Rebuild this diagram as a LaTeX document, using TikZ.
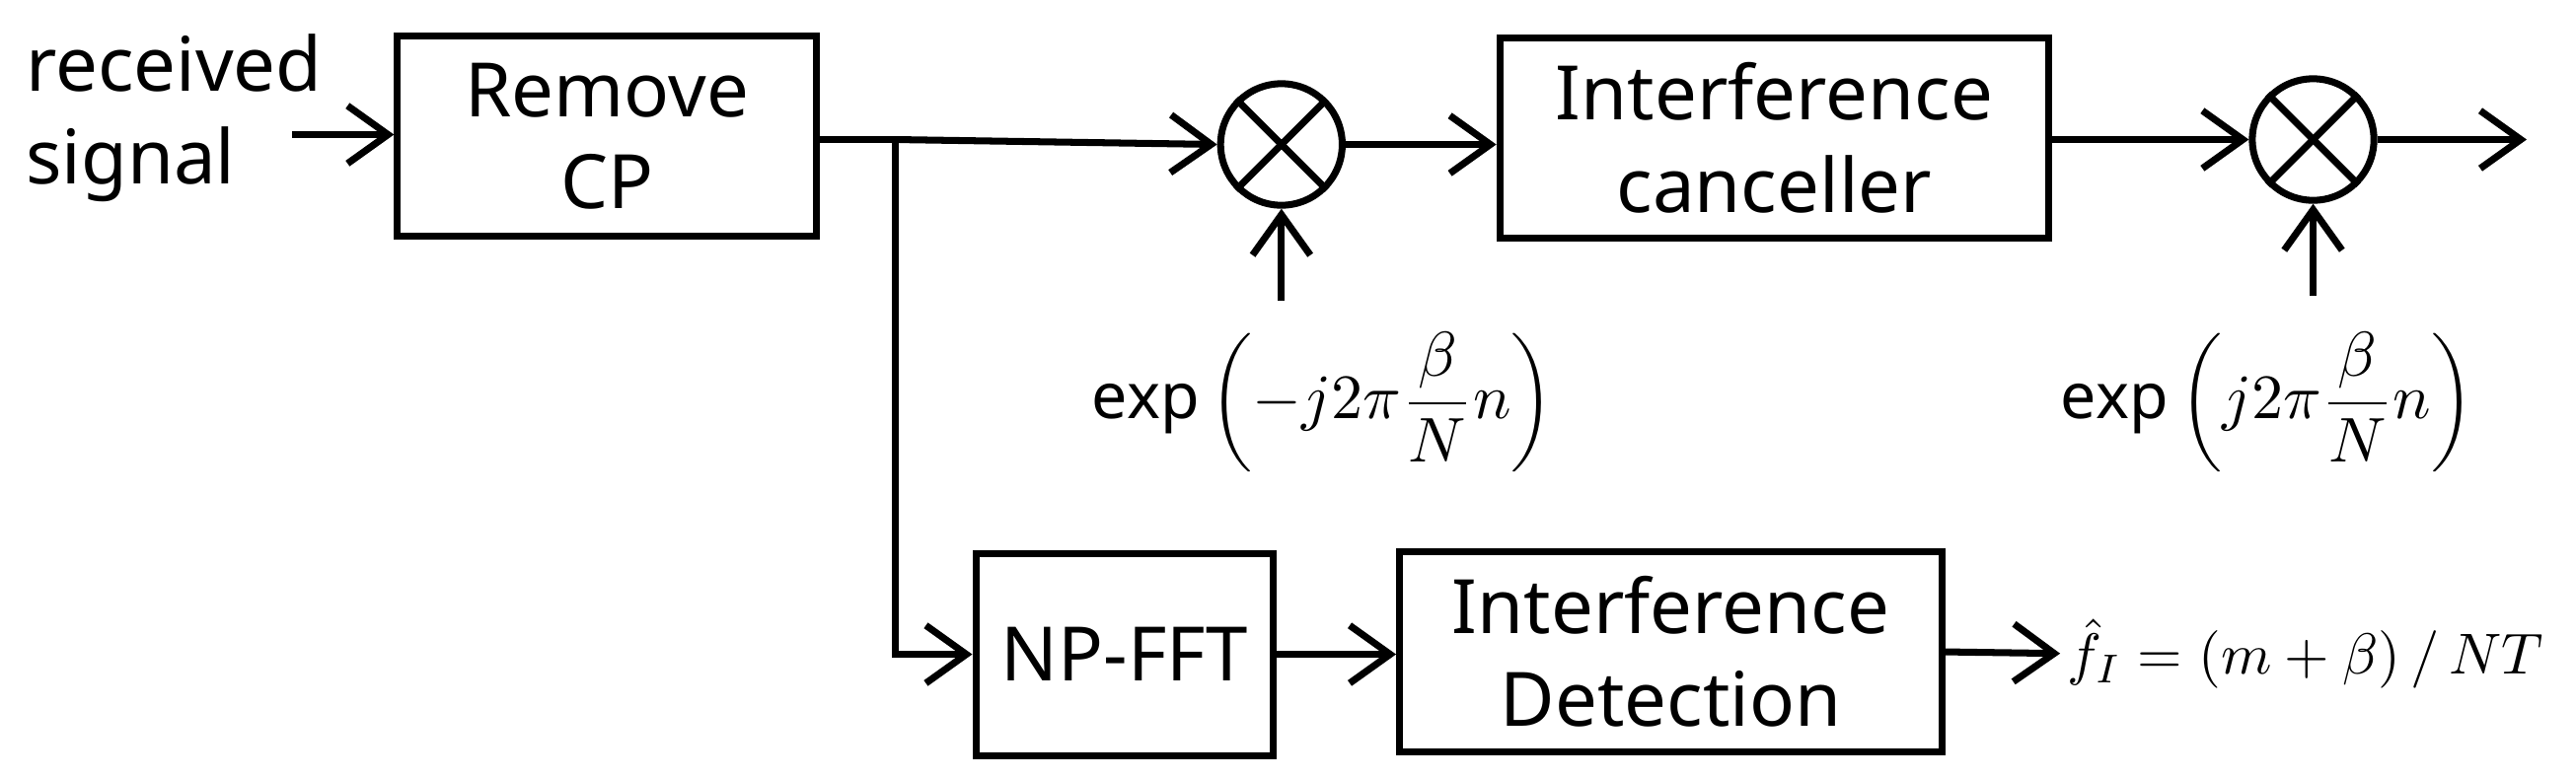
\documentclass[tikz,border=0pt]{standalone}
\usepackage{fontspec}
\setmainfont{Noto Sans}
\usetikzlibrary{arrows.meta}
\begin{document}
\begin{tikzpicture}[x=0.01cm,y=-0.01cm,
  box/.style={draw,line width=1.2pt,inner sep=0pt,align=center,font=\fontsize{13}{16}\selectfont},
  mul/.style={draw,circle,line width=1.2pt,minimum size=0.74cm,inner sep=0pt},
  arr/.style={line width=1.2pt,-{Straight Barb[length=7pt,width=10pt]}},
  ln/.style={line width=1.2pt}]
\useasboundingbox (0,0) rectangle (1568,474);
\node[align=left,anchor=west,font=\fontsize{13}{16}\selectfont,inner sep=0pt] (rx) at (15,72) {received\\signal};
\node[box,minimum width=2.55cm,minimum height=1.22cm] (rcp) at (369.5,83) {Remove\\CP};
\node[mul] (m1) at (780,88) {};
\node[box,minimum width=3.34cm,minimum height=1.22cm] (ic) at (1080,84) {Interference\\canceller};
\node[mul] (m2) at (1408,85) {};
\node[box,minimum width=1.81cm,minimum height=1.23cm] (fft) at (684.5,398.5) {NP-FFT};
\node[box,minimum width=3.30cm,minimum height=1.22cm] (det) at (1017,397) {Interference\\Detection};
\coordinate (s) at (178,82);
\coordinate (br) at (545,85);
\coordinate (e1) at (780,183);
\coordinate (e2) at (1408,180);
\coordinate (out) at (1538,85);
\node[font=\fontsize{11}{13}\selectfont] (l1) at (805,245) {$\displaystyle\mathrm{exp}\left(-j2\pi\frac{\beta}{N}n\right)$};
\node[font=\fontsize{11}{13}\selectfont] (l2) at (1380,245) {$\displaystyle\mathrm{exp}\left(j2\pi\frac{\beta}{N}n\right)$};
\node[anchor=west,font=\fontsize{10}{12}\selectfont,inner sep=1pt] (fi) at (1254,398) {$\hat{f}_I=(m+\beta)\,/\,NT$};
\foreach \a in {45,135}{
  \draw[ln] (m1.\a) -- (m1.\a+180);
  \draw[ln] (m2.\a) -- (m2.\a+180);}
\draw[arr] (s) -- (rcp.west|-s);
\draw[ln] (rcp.east|-br) -- (br);
\draw[arr] (br) -- (m1.west);
\draw[arr] (br) |- (fft.west);
\draw[arr] (m1.east) -- (ic.west|-m1.east);
\draw[arr] (ic.east|-m2) -- (m2.west);
\draw[arr] (m2.east) -- (out);
\draw[arr] (e1) -- (m1.south);
\draw[arr] (e2) -- (m2.south);
\draw[arr] (fft.east) -- (det.west|-fft.east);
\draw[arr] (det.east) -- (fi.west);
\end{tikzpicture}
\end{document}
